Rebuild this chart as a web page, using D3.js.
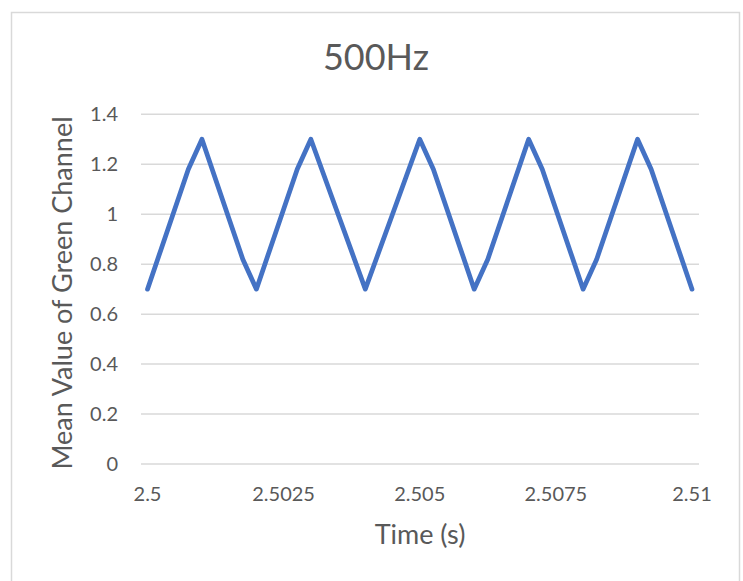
<!DOCTYPE html>
<html>
<head>
<meta charset="utf-8">
<script src="https://cdn.jsdelivr.net/npm/d3@7"></script>
<style>
  html, body { margin: 0; padding: 0; background: #fff; }
  svg text { font-family: Lato, "Open Sans", sans-serif; fill: #595959; }
</style>
</head>
<body>
<div id="vis"></div>
<script>
// chart data
const chartTitle = '500Hz';
const xTitle = 'Time (s)';
const yTitle = 'Mean Value of Green Channel';

const times = [
  2.5, 2.50025, 2.5005, 2.50075, 2.501, 2.50125, 2.5015, 2.50175, 2.502,
  2.50225, 2.5025, 2.50275, 2.503, 2.50325, 2.5035, 2.50375, 2.504,
  2.50425, 2.5045, 2.50475, 2.505, 2.50525, 2.5055, 2.50575, 2.506,
  2.50625, 2.5065, 2.50675, 2.507, 2.50725, 2.5075, 2.50775, 2.508,
  2.50825, 2.5085, 2.50875, 2.509, 2.50925, 2.5095, 2.50975, 2.51
];
const green = [
  0.7, 0.86, 1.02, 1.18, 1.3, 1.14, 0.98, 0.82, 0.7,
  0.86, 1.02, 1.18, 1.3, 1.15, 1.0, 0.85, 0.7,
  0.85, 1.0, 1.15, 1.3, 1.18, 1.02, 0.86, 0.7,
  0.82, 0.98, 1.14, 1.3, 1.18, 1.02, 0.86, 0.7,
  0.82, 0.98, 1.14, 1.3, 1.18, 1.02, 0.86, 0.7
];
const xTicks = [2.5, 2.5025, 2.505, 2.5075, 2.51];
const yTicks = [0, 0.2, 0.4, 0.6, 0.8, 1, 1.2, 1.4];

const width = 743, height = 581;

let svg = d3.select('#vis')
  .append('svg')
  .attr('width', width)
  .attr('height', height);

// chart frame
svg.append('rect')
  .attr('x', 11.5).attr('y', 12.5)
  .attr('width', 728).attr('height', 600)
  .attr('fill', '#fff')
  .attr('stroke', '#d9d9d9')
  .attr('stroke-width', 1.5);

let x = d3.scaleLinear().domain([2.5, 2.51]).range([147.5, 692]);
let y = d3.scaleLinear().domain([0, 1.4]).range([464, 114.3]);

// horizontal gridlines
svg.append('g')
  .selectAll('line')
  .data(yTicks)
  .join('line')
  .attr('x1', 141).attr('x2', 699)
  .attr('y1', d => y(d)).attr('y2', d => y(d))
  .attr('stroke', '#d9d9d9')
  .attr('stroke-width', 1.5);

// y tick labels
svg.append('g')
  .selectAll('text')
  .data(yTicks)
  .join('text')
  .attr('x', 118)
  .attr('y', d => y(d))
  .attr('dy', '0.35em')
  .attr('text-anchor', 'end')
  .style('font-size', '20px')
  .text(d => d);

// x tick labels
svg.append('g')
  .selectAll('text')
  .data(xTicks)
  .join('text')
  .attr('x', d => x(d))
  .attr('y', 494)
  .attr('dy', '0.35em')
  .attr('text-anchor', 'middle')
  .style('font-size', '20px')
  .text(d => d);

// the signal
let line = d3.line()
  .x((d, i) => x(times[i]))
  .y(d => y(d));

svg.append('path')
  .datum(green)
  .attr('d', line)
  .attr('fill', 'none')
  .attr('stroke', '#4472C4')
  .attr('stroke-width', 4.75)
  .attr('stroke-linejoin', 'round')
  .attr('stroke-linecap', 'round');

// titles
svg.append('text')
  .attr('x', 376).attr('y', 57)
  .attr('dy', '0.35em')
  .attr('text-anchor', 'middle')
  .style('font-size', '36px')
  .text(chartTitle);

svg.append('text')
  .attr('x', 420).attr('y', 535)
  .attr('dy', '0.35em')
  .attr('text-anchor', 'middle')
  .style('font-size', '27px')
  .text(xTitle);

svg.append('text')
  .attr('transform', 'translate(63,293) rotate(-90)')
  .attr('dy', '0.35em')
  .attr('text-anchor', 'middle')
  .style('font-size', '27px')
  .text(yTitle);
</script>
</body>
</html>
